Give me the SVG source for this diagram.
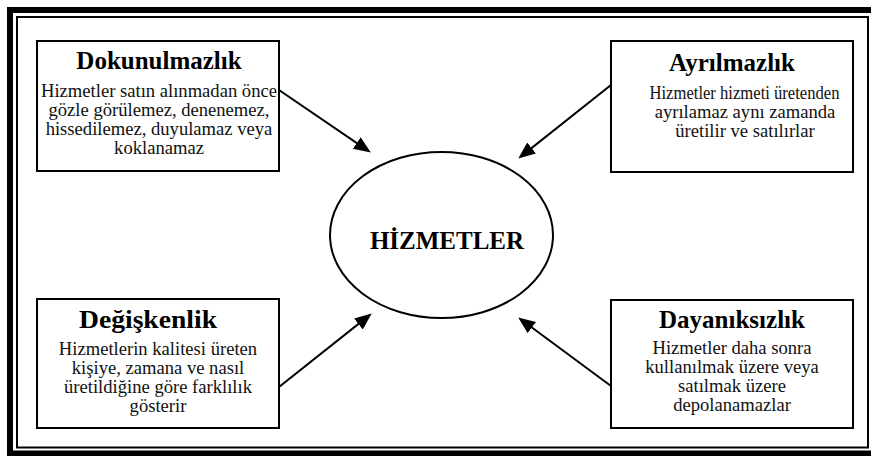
<svg xmlns="http://www.w3.org/2000/svg" width="871" height="456" viewBox="0 0 871 456">
  <style>
    text { font-family: 'Liberation Serif', 'Times New Roman', 'DejaVu Serif', serif; fill: #000; text-anchor: middle; }
    .box { fill: #fff; stroke: #000; stroke-width: 2; }
    .title { font-weight: bold; font-size: 25px; }
    .body { font-size: 18.6px; fill: #111; }
    .link { stroke: #000; stroke-width: 2; fill: none; marker-end: url(#head); }
  </style>
  <defs>
    <marker id="head" markerUnits="userSpaceOnUse" markerWidth="19" markerHeight="16" refX="13" refY="7" orient="auto">
      <path d="M0,0 L17,7 L0,14 Z" fill="#000"/>
    </marker>
  </defs>

  <rect width="871" height="456" fill="#fff"/>

  <!-- double frame: heavy outer rule, thin inner rule -->
  <g id="frame">
    <rect x="10" y="10" width="870" height="443.5" fill="none" stroke="#000" stroke-width="6"/>
    <rect x="17" y="17" width="851" height="430.5" fill="none" stroke="#000" stroke-width="2"/>
  </g>

  <!-- arrows from each property box into the central ellipse -->
  <g id="connectors">
    <line class="link" x1="279" y1="90" x2="367.5" y2="150.3"/>
    <line class="link" x1="611" y1="85" x2="521.4" y2="156.1"/>
    <line class="link" x1="279" y1="387" x2="368.6" y2="315.9"/>
    <line class="link" x1="611" y1="386" x2="521.4" y2="319.8"/>
  </g>

  <g id="hizmetler">
    <ellipse cx="441.5" cy="235" rx="111.5" ry="83" fill="#fff" stroke="#000" stroke-width="2"/>
    <text class="title" x="447" y="249">HİZMETLER</text>
  </g>

  <g id="dokunulmazlik">
    <rect class="box" x="37" y="41" width="242" height="130"/>
    <text class="title" x="159" y="69">Dokunulmazlık</text>
    <text class="body" x="159" y="97">Hizmetler satın alınmadan önce</text>
    <text class="body" x="159" y="116">gözle görülemez, denenemez,</text>
    <text class="body" x="159" y="135">hissedilemez, duyulamaz veya</text>
    <text class="body" x="159" y="154">koklanamaz</text>
  </g>

  <g id="ayrilmazlik">
    <rect class="box" x="611" y="41" width="242" height="131"/>
    <text class="title" x="732" y="71">Ayrılmazlık</text>
    <text class="body" x="744.5" y="99" textLength="190" lengthAdjust="spacingAndGlyphs">Hizmetler hizmeti üretenden</text>
    <text class="body" x="745" y="118">ayrılamaz aynı zamanda</text>
    <text class="body" x="745" y="137">üretilir ve satılırlar</text>
  </g>

  <g id="degiskenlik">
    <rect class="box" x="37" y="299" width="242" height="129"/>
    <text class="title" x="148" y="328" textLength="138" lengthAdjust="spacingAndGlyphs">Değişkenlik</text>
    <text class="body" x="158" y="355">Hizmetlerin kalitesi üreten</text>
    <text class="body" x="158" y="374">kişiye, zamana ve nasıl</text>
    <text class="body" x="158" y="393">üretildiğine göre farklılık</text>
    <text class="body" x="158" y="412">gösterir</text>
  </g>

  <g id="dayaniksizlik">
    <rect class="box" x="611" y="300" width="242" height="128"/>
    <text class="title" x="732" y="328">Dayanıksızlık</text>
    <text class="body" x="732" y="354">Hizmetler daha sonra</text>
    <text class="body" x="732" y="373">kullanılmak üzere veya</text>
    <text class="body" x="732" y="392">satılmak üzere</text>
    <text class="body" x="732" y="411">depolanamazlar</text>
  </g>
</svg>
